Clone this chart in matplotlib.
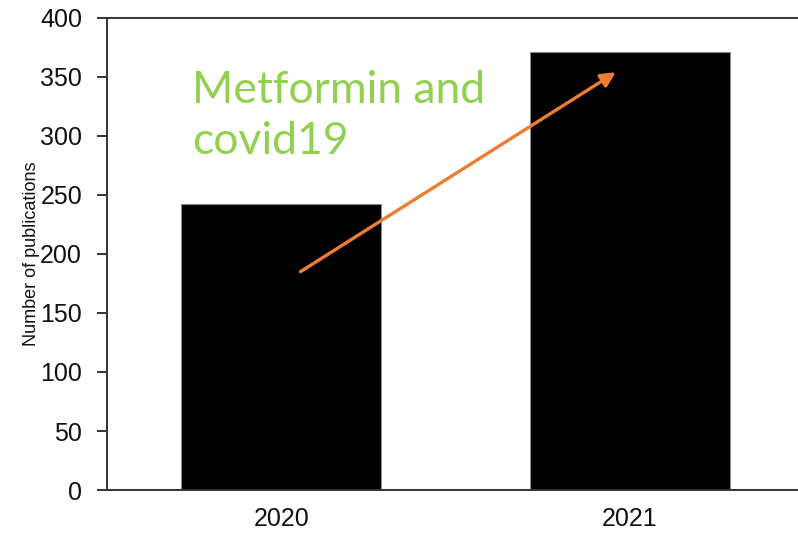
import matplotlib.pyplot as plt

years = ["2020", "2021"]
publications = [242, 371]
arrow_start = (0.055, 185)
arrow_end = (0.96, 354)

fig = plt.figure(figsize=(7.98, 5.35), dpi=100)
ax = fig.add_axes([0.1341, 0.0841, 0.8734, 0.8823])

ax.bar(years, publications, width=0.574, color="black", edgecolor="#8a8a8a", linewidth=0.8)
ax.set_xlim(-0.5, 1.5)
ax.set_ylim(0, 400)
ax.set_yticks(range(0, 401, 50))

for side in ["left", "bottom", "top", "right"]:
    ax.spines[side].set_color("#333333")
    ax.spines[side].set_linewidth(1.4)

ax.tick_params(axis="y", direction="out", length=7, width=1.4, color="#333333",
               labelsize=18, pad=11, labelcolor="#111111")
ax.tick_params(axis="x", length=0, labelsize=18, pad=12, labelcolor="#111111")
for lab in ax.get_xticklabels() + ax.get_yticklabels():
    lab.set_family("Liberation Sans")

ax.set_ylabel("Number of publications", fontsize=13, family="Liberation Sans",
              color="#111111")
ax.yaxis.set_label_coords(-0.096, 0.5)

# annotation text, one line at a time
ax.text(-0.255, 328, "Metformin and", fontsize=32, family="Lato",
        color="#92D050", va="baseline", ha="left")
ax.text(-0.255, 285, "covid19", fontsize=32, family="Lato",
        color="#92D050", va="baseline", ha="left")

ax.annotate("", xy=arrow_end, xytext=arrow_start,
            arrowprops=dict(arrowstyle="-|>", color="#ED7D31", lw=2.4,
                            mutation_scale=22, shrinkA=0, shrinkB=0))

fig.savefig("out.png", dpi=100)
